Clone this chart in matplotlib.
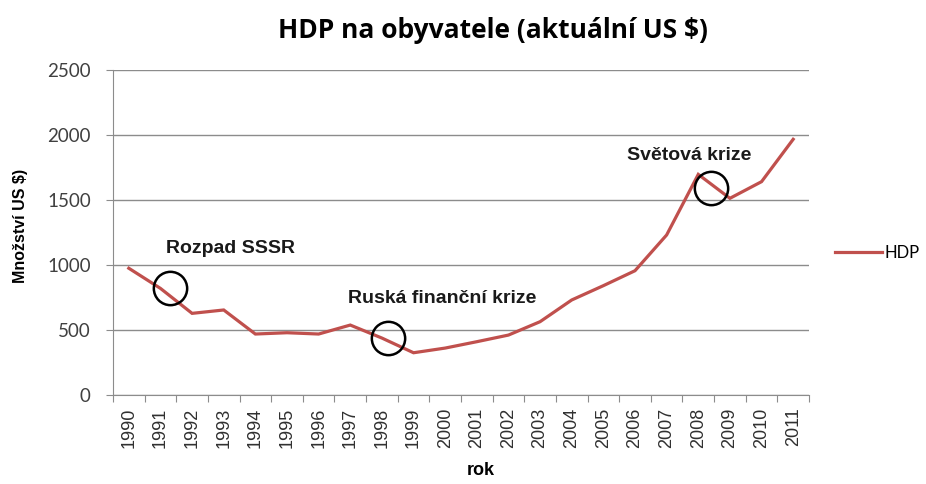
import numpy as np
import matplotlib.pyplot as plt

years = [str(y) for y in range(1990, 2012)]
hdp = [975, 820, 628, 654, 469, 479, 469, 538, 438, 325, 361, 410,
       461, 564, 731, 841, 956, 1231, 1697, 1513, 1641, 1967]

# annotated events: (label, circle x index, circle y, text x index, text y)
notes = ["Rozpad SSSR", "Ruská finanční krize", "Světová krize"]
circ_x = [1.3, 8.2, 18.4]
circ_y = [820, 436, 1595]
text_x = [3.2, 9.9, 17.7]
text_y = [1130, 745, 1845]

red = "#C0504D"
grid = "#8C8C8C"

fig = plt.figure(figsize=(9.26, 4.84), dpi=100)
ax = fig.add_axes([113/926, 1-395/484, (809-113)/926, (395-70)/484])

x = np.arange(len(years))
ax.plot(x, hdp, color=red, lw=2.3, label="HDP", solid_joinstyle="miter")
ax.plot(circ_x, circ_y, "o", ms=24, mfc="none", mec="black", mew=1.8)
for t, tx, ty in zip(notes, text_x, text_y):
    ax.text(tx, ty, t, ha="center", va="center", fontsize=14,
            fontweight="bold", family="Liberation Sans", color="#1a1a1a")

ax.set_xlim(-0.5, len(years) - 0.5)
ax.set_ylim(0, 2500)
ax.set_yticks(range(0, 2501, 500))
ax.yaxis.grid(True, color=grid, lw=1)
ax.set_axisbelow(True)
for lab in ax.get_yticklabels():
    lab.set_family("Lato")
    lab.set_fontsize(13.5)
    lab.set_color("#404040")
ax.tick_params(axis="y", length=5, color=grid, pad=11)

ax.set_xticks(np.arange(-0.5, len(years)), labels=[])
ax.set_xticks(x, labels=years, minor=True)
ax.tick_params(axis="x", which="major", length=5, color=grid)
ax.tick_params(axis="x", which="minor", length=0, pad=9, labelsize=13,
               labelrotation=90)
for lab in ax.get_xticklabels(minor=True):
    lab.set_family("Liberation Sans")
    lab.set_color("#303030")

for s in ["top", "right"]:
    ax.spines[s].set_visible(False)
for s in ["left", "bottom"]:
    ax.spines[s].set_color(grid)

ax.set_ylabel("Množství US $)", fontsize=11.5, fontweight="bold",
              family="Liberation Sans")
ax.yaxis.set_label_coords(-85/696, 0.52)
ax.set_xlabel("rok", fontsize=13, fontweight="bold",
              family="Liberation Sans")
ax.xaxis.set_label_coords((481-113)/696, -67/325)

fig.suptitle("HDP na obyvatele (aktuální US $)", x=493/926, y=1-30/484,
             va="center", fontsize=19, fontweight="bold", family="Open Sans")

fig.legend(loc="center left", bbox_to_anchor=(835/926, 1-253/484),
           frameon=False, handlelength=2.8, handletextpad=0.2,
           borderpad=0, borderaxespad=0,
           prop={"family": "Lato", "size": 12})

fig.savefig("out.png", dpi=100)
